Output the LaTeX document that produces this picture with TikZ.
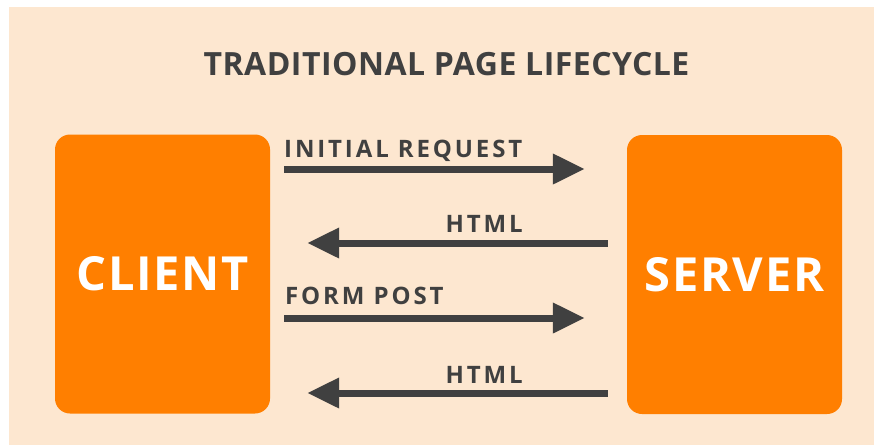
\documentclass[tikz,border=0pt]{standalone}
\usepackage{fontspec}
\setmainfont{Open Sans}
\newfontfamily\titlefont{Open Sans}[LetterSpace=1.5]
\newfontfamily\labelfont{Open Sans}[LetterSpace=12]
\newfontfamily\partyfont{Open Sans}[LetterSpace=3.5]
\usetikzlibrary{arrows.meta,calc}
\definecolor{peach}{HTML}{FDE7D0}
\definecolor{boxorange}{HTML}{FF7F00}
\definecolor{ink}{HTML}{404040}
\tikzset{
  party/.style={fill=boxorange, draw=none, rounded corners=15pt,
    minimum width=215pt, minimum height=279pt, inner sep=0pt,
    text=white, font=\partyfont\bfseries\fontsize{47}{47}\selectfont},
  msg/.style={draw=ink, line width=7pt,
    -{Triangle[length=32pt,width=29pt]}},
  msglabel/.style={inner sep=0pt, text=ink, font=\labelfont\bfseries\fontsize{24}{24}\selectfont},
}
\begin{document}
\begin{tikzpicture}[x=1pt,y=-1pt]
  \useasboundingbox (0,0) rectangle (874,445);
  \fill[white] (0,0) rectangle (874,445);
  \fill[peach] (9,7) rectangle (874,445);

  \node[anchor=base, inner sep=0pt, text=ink,
        font=\titlefont\bfseries\fontsize{32}{32}\selectfont] (title) at (446.5,75)
        {TRADITIONAL PAGE LIFECYCLE};

  \node[party] (client) at (162.5,274) {CLIENT};
  \node[party] (server) at (734.5,274.5) {SERVER};

  % request / response pairs
  \draw[msg] ($(client.east|-0,169)+(14,0)$) -- ($(server.west|-0,169)+(-42,0)$);
  \draw[msg] ($(server.west|-0,243)+(-19,0)$) -- ($(client.east|-0,243)+(37,0)$);
  \draw[msg] ($(client.east|-0,318)+(14,0)$) -- ($(server.west|-0,318)+(-42,0)$);
  \draw[msg] ($(server.west|-0,393)+(-19,0)$) -- ($(client.east|-0,393)+(37,0)$);

  \node[msglabel, anchor=base west] (lreq) at (284,157) {INITIAL REQUEST};
  \node[msglabel, anchor=base east] (lhtml1) at (523,232) {HTML};
  \node[msglabel, anchor=base west] (lpost) at (285,304) {FORM POST};
  \node[msglabel, anchor=base east] (lhtml2) at (523,383) {HTML};
\end{tikzpicture}
\end{document}
